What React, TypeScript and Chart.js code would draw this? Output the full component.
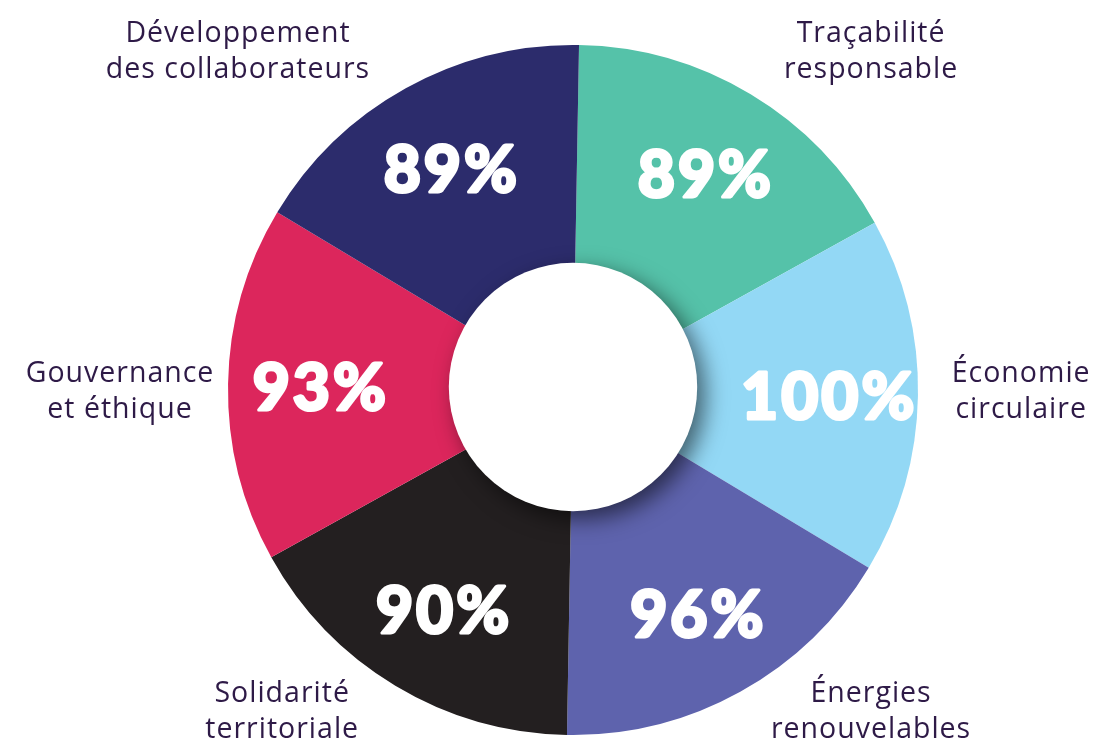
import React, { useEffect, useRef } from "react";
import { Chart, registerables } from "chart.js";

Chart.register(...registerables);

const categories: string[][] = [
  ["Traçabilité", "responsable"],
  ["Économie", "circulaire"],
  ["Énergies", "renouvelables"],
  ["Solidarité", "territoriale"],
  ["Gouvernance", "et éthique"],
  ["Développement", "des collaborateurs"],
];
const scores: number[] = [89, 100, 96, 90, 93, 89];
const sliceWeights: number[] = [1, 1, 1, 1, 1, 1];
const colors: string[] = ["#55C2A9", "#93D8F5", "#5E63AD", "#231F20", "#DC265C", "#2C2C6C"];

// outer label placement, offsets from the centre in outer radii
const labelPlacement = [
  { dx: 0.864, dy: -0.98 },
  { dx: 1.299, dy: 0.006 },
  { dx: 0.864, dy: 0.934 },
  { dx: -0.843, dy: 0.934 },
  { dx: -1.313, dy: 0.006 },
  { dx: -0.971, dy: -0.98 },
];

const decorPlugin = {
  id: "decor",
  afterDatasetsDraw(chart: any) {
    const meta = chart.getDatasetMeta(0);
    const arc0 = meta.data[0];
    if (!arc0) return;
    const { x, y, outerRadius } = arc0;
    const ctx = chart.ctx;
    const innerR = outerRadius * 0.36;
    // hole with shadow
    ctx.save();
    ctx.shadowColor = "rgba(0,0,0,0.55)";
    ctx.shadowBlur = 22;
    ctx.shadowOffsetX = 8;
    ctx.shadowOffsetY = 8;
    ctx.beginPath();
    ctx.arc(x, y - 3, innerR, 0, Math.PI * 2);
    ctx.fillStyle = "#ffffff";
    ctx.fill();
    ctx.restore();

    // percentage labels
    ctx.save();
    ctx.fillStyle = "#ffffff";
    ctx.strokeStyle = "#ffffff";
    ctx.lineWidth = 3;
    ctx.lineJoin = "round";
    ctx.font = "900 64px Lato";
    (ctx as any).letterSpacing = "3px";
    ctx.textAlign = "center";
    ctx.textBaseline = "middle";
    meta.data.forEach((arc: any, i: number) => {
      const mid = (arc.startAngle + arc.endAngle) / 2;
      const r = outerRadius * 0.737;
      const tx = x + Math.cos(mid) * r + 2;
      const ty = y + Math.sin(mid) * r + 4;
      ctx.fillText(scores[i] + "%", tx, ty);
      ctx.strokeText(scores[i] + "%", tx, ty);
    });
    ctx.restore();

    // category labels
    ctx.save();
    ctx.fillStyle = "#2E1A47";
    ctx.font = "400 28.5px 'Open Sans'";
    (ctx as any).letterSpacing = "1px";
    ctx.textAlign = "center";
    ctx.textBaseline = "middle";
    categories.forEach((lines, i) => {
      const p = labelPlacement[i];
      const cx = x + p.dx * outerRadius;
      const cy = y + p.dy * outerRadius;
      lines.forEach((t, j) => {
        ctx.fillText(t, cx, cy + (j - (lines.length - 1) / 2) * 36);
      });
    });
    ctx.restore();
  },
};

export default function App() {
  const ref = useRef<HTMLCanvasElement>(null);
  useEffect(() => {
    document.body.style.margin = "0";
    const chart = new Chart(ref.current!, {
      type: "pie",
      data: {
        labels: categories.map((c) => c.join(" ")),
        datasets: [
          {
            data: sliceWeights,
            backgroundColor: colors,
            borderWidth: 0,
          },
        ],
      },
      options: {
        animation: false,
        responsive: false,
        rotation: 1,
        layout: { padding: { left: 228, right: 176, top: 45, bottom: 9 } },
        plugins: {
          legend: { display: false },
          tooltip: { enabled: false },
        },
      },
      plugins: [decorPlugin],
    });
    return () => chart.destroy();
  }, []);
  return (
    <div style={{ width: 1094, height: 744, background: "#fff" }}>
      <canvas ref={ref} width={1094} height={744} />
    </div>
  );
}
